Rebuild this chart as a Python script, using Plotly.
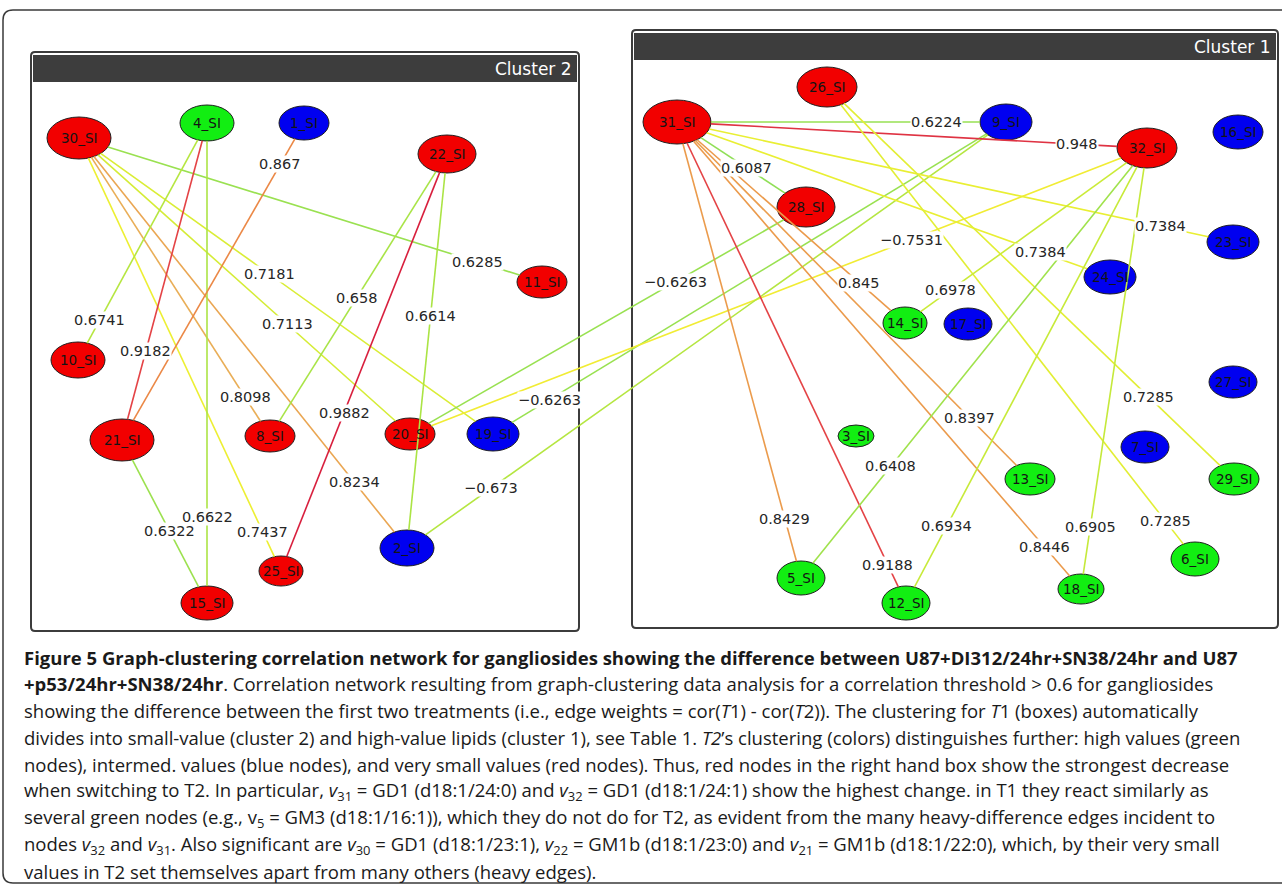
import math
import plotly.graph_objects as go

# ---------------- data ----------------
node_names = ["30_SI", "4_SI", "1_SI", "22_SI", "11_SI", "10_SI", "21_SI", "8_SI",
              "20_SI", "19_SI", "2_SI", "25_SI", "15_SI",
              "31_SI", "26_SI", "9_SI", "32_SI", "16_SI", "28_SI", "23_SI", "24_SI",
              "14_SI", "17_SI", "27_SI", "3_SI", "7_SI", "13_SI", "29_SI", "5_SI",
              "12_SI", "18_SI", "6_SI"]
# T2 clustering class of each node
node_class = ["low", "high", "mid", "low", "low", "low", "low", "low",
              "low", "mid", "mid", "low", "low",
              "low", "low", "mid", "low", "mid", "low", "mid", "mid",
              "high", "mid", "mid", "high", "mid", "high", "high", "high",
              "high", "high", "high"]
# network layout coordinates (pixels of the original layout)
node_x = [79, 207, 304, 447, 542, 78, 122, 270, 410, 493, 407, 281, 207,
          677, 827, 1006, 1147, 1238, 806, 1233, 1110, 905, 968, 1233, 856, 1145,
          1030, 1234, 801, 906, 1081, 1195]
node_y = [138, 123, 123, 154, 282, 360, 440, 436, 434, 434, 548, 571, 603,
          122, 87, 122, 148, 132, 207, 242, 277, 323, 324, 382, 436, 447,
          479, 479, 578, 603, 589, 559]
node_rx = [32, 27, 25, 29, 25, 27, 32, 25, 25, 26, 27, 22, 26,
           34, 30, 26, 30, 25, 29, 26, 26, 22, 24, 24, 18, 24, 25, 25, 24, 24, 23, 24]
node_ry = [21, 18, 17, 19, 16, 18, 21, 16, 16, 17, 18, 15, 17,
           22, 20, 18, 20, 17, 20, 17, 17, 16, 16, 16, 11, 16, 16, 16, 17, 17, 15, 17]

edge_src = ["30_SI", "30_SI", "30_SI", "30_SI", "30_SI", "30_SI", "4_SI", "4_SI",
            "4_SI", "1_SI", "22_SI", "22_SI", "22_SI", "21_SI", "20_SI", "19_SI",
            "20_SI", "2_SI",
            "31_SI", "31_SI", "31_SI", "31_SI", "31_SI", "31_SI", "31_SI", "31_SI",
            "31_SI", "31_SI", "26_SI", "26_SI", "32_SI", "32_SI", "32_SI", "32_SI"]
edge_dst = ["11_SI", "19_SI", "20_SI", "8_SI", "2_SI", "25_SI", "10_SI", "21_SI",
            "15_SI", "21_SI", "8_SI", "25_SI", "2_SI", "15_SI", "28_SI", "9_SI",
            "32_SI", "9_SI",
            "9_SI", "32_SI", "28_SI", "14_SI", "13_SI", "18_SI", "5_SI", "12_SI",
            "23_SI", "24_SI", "29_SI", "6_SI", "5_SI", "12_SI", "18_SI", "14_SI"]
edge_weight = [0.6285, 0.7181, 0.7113, 0.8098, 0.8234, 0.7437, 0.6741, 0.9182,
               0.6622, 0.867, 0.658, 0.9882, 0.6614, 0.6322, -0.6263, -0.6263,
               -0.7531, -0.673,
               0.6224, 0.948, 0.6087, 0.845, 0.8397, 0.8446, 0.8429, 0.9188,
               0.7384, 0.7384, 0.7285, 0.7285, 0.6408, 0.6934, 0.6905, 0.6978]
# where each weight label sits along its edge (fraction from source)
edge_label_t = [0.86, 0.46, 0.63, 0.87, 0.84, 0.91, 0.83, 0.72,
                0.82, 0.13, 0.51, 0.62, 0.41, 0.56, 0.67, 0.11,
                0.68, 0.14,
                0.79, 0.85, 0.54, 0.80, 0.83, 0.91, 0.87, 0.92,
                0.87, 0.84, 0.79, 0.92, 0.74, 0.83, 0.86, 0.81]

cluster_titles = ["Cluster 2", "Cluster 1"]

caption_lines = [
    "<b>Figure 5 Graph-clustering correlation network for gangliosides showing the difference between U87+DI312/24hr+SN38/24hr and U87</b>",
    "<b>+p53/24hr+SN38/24hr</b>. Correlation network resulting from graph-clustering data analysis for a correlation threshold &gt; 0.6 for gangliosides",
    "showing the difference between the first two treatments (i.e., edge weights = cor(<i>T</i>1) - cor(<i>T</i>2)). The clustering for <i>T</i>1 (boxes) automatically",
    "divides into small-value (cluster 2) and high-value lipids (cluster 1), see Table 1. <i>T2</i>’s clustering (colors) distinguishes further: high values (green",
    "nodes), intermed. values (blue nodes), and very small values (red nodes). Thus, red nodes in the right hand box show the strongest decrease",
    "when switching to T2. In particular, <i>v</i><sub>31</sub> = GD1 (d18:1/24:0) and <i>v</i><sub>32</sub> = GD1 (d18:1/24:1) show the highest change. in T1 they react similarly as",
    "several green nodes (e.g., v<sub>5</sub> = GM3 (d18:1/16:1)), which they do not do for T2, as evident from the many heavy-difference edges incident to",
    "nodes <i>v</i><sub>32</sub> and <i>v</i><sub>31</sub>. Also significant are <i>v</i><sub>30</sub> = GD1 (d18:1/23:1), <i>v</i><sub>22</sub> = GM1b (d18:1/23:0) and <i>v</i><sub>21</sub> = GM1b (d18:1/22:0), which, by their very small",
    "values in T2 set themselves apart from many others (heavy edges).",
]

# ---------------- styling helpers ----------------
W, H = 1282, 887
class_color = {"low": "#f20000", "mid": "#0000f0", "high": "#12ee12"}


def edge_color(w):
    a = abs(w)
    stops = [(0.60, (140, 222, 90)), (0.66, (170, 228, 70)), (0.70, (205, 235, 55)),
             (0.75, (242, 240, 50)), (0.80, (232, 180, 90)), (0.86, (236, 145, 70)),
             (0.92, (228, 65, 70)), (1.00, (214, 25, 60))]
    if a <= stops[0][0]:
        c = stops[0][1]
    elif a >= stops[-1][0]:
        c = stops[-1][1]
    else:
        for (a0, c0), (a1, c1) in zip(stops, stops[1:]):
            if a0 <= a <= a1:
                f = (a - a0) / (a1 - a0)
                c = tuple(round(c0[i] + f * (c1[i] - c0[i])) for i in range(3))
                break
    return "rgb(%d,%d,%d)" % c


def boundary(i, dx, dy):
    # distance from ellipse centre to its boundary along direction (dx, dy)
    rx, ry = node_rx[i], node_ry[i]
    L = math.hypot(dx, dy)
    ux, uy = dx / L, dy / L
    return 1.0 / math.sqrt((ux / rx) ** 2 + (uy / ry) ** 2)


def rounded_rect(x0, y0, x1, y1, r):
    return (f"M{x0 + r},{y0} L{x1 - r},{y0} Q{x1},{y0} {x1},{y0 + r} "
            f"L{x1},{y1 - r} Q{x1},{y1} {x1 - r},{y1} L{x0 + r},{y1} "
            f"Q{x0},{y1} {x0},{y1 - r} L{x0},{y0 + r} Q{x0},{y0} {x0 + r},{y0} Z")


idx = {n: i for i, n in enumerate(node_names)}

fig = go.Figure()
shapes = []
annotations = []

# outer frame
shapes.append(dict(type="path", xref="x", yref="y", layer="below",
                   path="M1300,10 L13,10 Q3,10 3,20 L3,873 Q3,883 13,883 L1300,883",
                   line=dict(color="#3a3a3a", width=1.5)))

# cluster boxes
boxes = [(31, 52, 579, 631), (632, 30, 1278, 628)]
for (x0, y0, x1, y1), title in zip(boxes, cluster_titles):
    shapes.append(dict(type="path", xref="x", yref="y", layer="below",
                       path=rounded_rect(x0, y0, x1, y1, 4),
                       fillcolor="white", line=dict(color="#3c3c3c", width=2)))
    shapes.append(dict(type="rect", xref="x", yref="y", layer="below",
                       x0=x0 + 2, x1=x1 - 2, y0=y0 + 3, y1=y0 + 30,
                       fillcolor="#3d3d3d", line=dict(width=0)))
    annotations.append(dict(x=x1 - 5, y=y0 + 16.5, xref="x", yref="y", text=title,
                            showarrow=False, xanchor="right", yanchor="middle",
                            font=dict(family="DejaVu Sans", size=17, color="white")))

# nodes (below the edges, as in the original rendering)
for i, n in enumerate(node_names):
    shapes.append(dict(type="circle", xref="x", yref="y", layer="below",
                       x0=node_x[i] - node_rx[i], x1=node_x[i] + node_rx[i],
                       y0=node_y[i] - node_ry[i], y1=node_y[i] + node_ry[i],
                       fillcolor=class_color[node_class[i]],
                       line=dict(color="#202020", width=1)))
    annotations.append(dict(x=node_x[i], y=node_y[i], xref="x", yref="y", text=n,
                            showarrow=False, xanchor="center", yanchor="middle",
                            font=dict(family="DejaVu Sans", size=13.5, color="#141414")))

# edges
for s, d, w, t in zip(edge_src, edge_dst, edge_weight, edge_label_t):
    i, j = idx[s], idx[d]
    dx, dy = node_x[j] - node_x[i], node_y[j] - node_y[i]
    L = math.hypot(dx, dy)
    bi = boundary(i, dx, dy)
    bj = boundary(j, -dx, -dy)
    xs = [node_x[i] + dx * bi / L, node_x[j] - dx * bj / L]
    ys = [node_y[i] + dy * bi / L, node_y[j] - dy * bj / L]
    fig.add_trace(go.Scatter(x=xs, y=ys, mode="lines", hoverinfo="skip",
                             showlegend=False,
                             line=dict(color=edge_color(w), width=1.6)))
    lx = node_x[i] + t * dx
    ly = node_y[i] + t * dy
    label = ("%g" % w).replace("-", "\u2212") if w < 0 else "%g" % w
    annotations.append(dict(x=lx, y=ly, xref="x", yref="y", text=label,
                            showarrow=False, xanchor="center", yanchor="middle",
                            bgcolor="white", borderpad=0,
                            font=dict(family="DejaVu Sans", size=14.5, color="#262626")))

# caption
cap_y0, cap_dy = 657, 26.8
for k, line in enumerate(caption_lines):
    annotations.append(dict(x=22, y=cap_y0 + k * cap_dy, xref="x", yref="y", text=line,
                            showarrow=False, xanchor="left", yanchor="middle",
                            font=dict(family="Open Sans", size=18.5, color="#1a1a1a")))

fig.update_layout(
    width=W, height=H,
    margin=dict(l=0, r=0, t=0, b=0),
    paper_bgcolor="white", plot_bgcolor="white",
    xaxis=dict(range=[0, W], visible=False, fixedrange=True),
    yaxis=dict(range=[H, 0], visible=False, fixedrange=True),
    shapes=shapes, annotations=annotations,
)

fig.write_html("out.html", config={"displayModeBar": False},
               post_script="document.body.style.margin='0';")
